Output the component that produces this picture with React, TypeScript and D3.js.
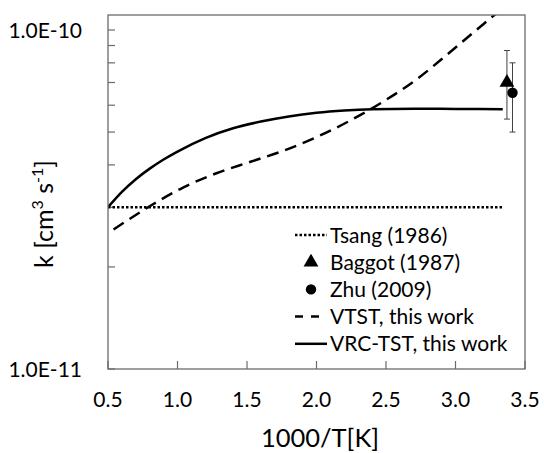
import * as d3 from 'd3';

// 1000/T values and rate constants
const vrcX = [0.5, 0.6, 0.7, 0.8, 0.9, 1.0, 1.2, 1.4, 1.6, 1.8, 2.0, 2.2, 2.4, 2.7, 3.0, 3.34];
const vrcK = [3.0e-11, 3.33e-11, 3.63e-11, 3.9e-11, 4.15e-11, 4.38e-11, 4.8e-11, 5.13e-11, 5.37e-11, 5.56e-11, 5.7e-11, 5.79e-11, 5.84e-11, 5.86e-11, 5.85e-11, 5.84e-11];

const vtstX = [0.54, 0.8, 1.04, 1.28, 1.52, 1.76, 2.0, 2.24, 2.48, 2.72, 2.96, 3.2, 3.34];
const vtstK = [2.58e-11, 3.02e-11, 3.43e-11, 3.78e-11, 4.08e-11, 4.4e-11, 4.83e-11, 5.4e-11, 6.15e-11, 7.15e-11, 8.6e-11, 1.04e-10, 1.16e-10];

const tsangX = [0.5, 3.34];
const tsangK = [3.0e-11, 3.0e-11];

// experimental points: value, lower, upper
const baggot = { x: 3.37, k: 7.0e-11, lo: 5.46e-11, hi: 8.7e-11 };
const zhu = { x: 3.41, k: 6.53e-11, lo: 5.0e-11, hi: 8.0e-11 };

const xTicks = [0.5, 1.0, 1.5, 2.0, 2.5, 3.0, 3.5];
const yMinor = [2e-11, 3e-11, 4e-11, 5e-11, 6e-11, 7e-11, 8e-11, 9e-11];
const yLabels = [1e-11, 1e-10];
const legendLabels = ['Tsang (1986)', 'Baggot (1987)', 'Zhu (2009)', 'VTST, this work', 'VRC-TST, this work'];

const W = 544;
const H = 453;
const left = 108, right = 525, top = 15, bottom = 369;
const font = 'Lato, "Open Sans", sans-serif';
const axisGray = '#6b6b6b';

export default function App() {
  const x = d3.scaleLinear().domain([0.5, 3.5]).range([left, right]);
  const y = d3.scaleLog().domain([1e-11, 1e-10]).range([bottom, 30]);

  const line = d3.line<[number, number]>()
    .x(d => x(d[0]))
    .y(d => y(d[1]))
    .curve(d3.curveMonotoneX);

  const vrc = line(vrcX.map((v, i) => [v, vrcK[i]]) as [number, number][]);
  const vtst = line(vtstX.map((v, i) => [v, vtstK[i]]) as [number, number][]);
  const tsang = line(tsangX.map((v, i) => [v, tsangK[i]]) as [number, number][]);

  const tri = d3.symbol().type(d3.symbolTriangle).size(95)();
  const dot = d3.symbol().type(d3.symbolCircle).size(85)();

  const errBar = (p: typeof baggot) => (
    <g stroke="#404040" strokeWidth={1}>
      <line x1={x(p.x)} x2={x(p.x)} y1={y(p.lo)} y2={y(p.hi)} />
      <line x1={x(p.x) - 3} x2={x(p.x) + 3} y1={y(p.lo)} y2={y(p.lo)} />
      <line x1={x(p.x) - 3} x2={x(p.x) + 3} y1={y(p.hi)} y2={y(p.hi)} />
    </g>
  );

  const legX = 295, legY = 235, legStep = 27.2;

  return (
    <svg width={W} height={H} style={{ position: 'absolute', left: 0, top: 0, background: '#fff' }}>
      <defs>
        <clipPath id="plot">
          <rect x={left} y={top} width={right - left} height={bottom - top} />
        </clipPath>
      </defs>

      {/* ticks inside the frame */}
      <g stroke={axisGray} strokeWidth={1.2}>
        {xTicks.map(t => (
          <line key={t} x1={x(t)} x2={x(t)} y1={bottom} y2={bottom - 8} />
        ))}
        {yMinor.concat(yLabels).map(t => (
          <line key={t} x1={left} x2={left + 7} y1={y(t)} y2={y(t)} />
        ))}
      </g>

      <g fontFamily={font} fontSize={21} fill="#000">
        {xTicks.map(t => (
          <text key={t} x={x(t)} y={407} textAnchor="middle">{t.toFixed(1)}</text>
        ))}
        {yLabels.map(t => (
          <text key={t} x={82} y={y(t) + 7.5} textAnchor="end">{t === 1e-10 ? '1.0E-10' : '1.0E-11'}</text>
        ))}
      </g>

      <text x={320} y={447} textAnchor="middle" fontFamily={font} fontSize={25.5}>1000/T[K]</text>
      <text transform={`translate(53,${(top + bottom) / 2 + 22}) rotate(-90)`} textAnchor="middle" fontFamily={font} fontSize={25}>
        k [cm<tspan dy={-10} fontSize={16}>3</tspan><tspan dy={10}> s</tspan><tspan dy={-10} fontSize={16}>-1</tspan><tspan dy={10}>]</tspan>
      </text>

      <g clipPath="url(#plot)" fill="none" stroke="#000" strokeWidth={2.5}>
        <path d={tsang ?? ''} strokeDasharray="2.5,2" />
        <path d={vtst ?? ''} strokeDasharray="12,7" />
        <path d={vrc ?? ''} />
      </g>

      {errBar(baggot)}
      {errBar(zhu)}
      <path d={tri ?? ''} transform={`translate(${x(baggot.x)},${y(baggot.k)})`} fill="#000" />
      <path d={dot ?? ''} transform={`translate(${x(zhu.x)},${y(zhu.k)})`} fill="#000" />

      <rect x={left} y={top} width={right - left} height={bottom - top} fill="none" stroke={axisGray} strokeWidth={1.3} />

      {/* legend */}
      <g fontFamily={font} fontSize={21}>
        {legendLabels.map((l, i) => (
          <text key={l} x={legX + 35} y={legY + i * legStep + 7.5}>{l}</text>
        ))}
        <line x1={legX} x2={legX + 32} y1={legY} y2={legY} stroke="#000" strokeWidth={2.5} strokeDasharray="2.5,2" />
        <path d={tri ?? ''} transform={`translate(${legX + 16},${legY + legStep})`} fill="#000" />
        <path d={dot ?? ''} transform={`translate(${legX + 16},${legY + 2 * legStep})`} fill="#000" />
        <line x1={legX} x2={legX + 32} y1={legY + 3 * legStep} y2={legY + 3 * legStep} stroke="#000" strokeWidth={2.5} strokeDasharray="8,8" />
        <line x1={legX} x2={legX + 32} y1={legY + 4 * legStep} y2={legY + 4 * legStep} stroke="#000" strokeWidth={2.5} />
      </g>
    </svg>
  );
}
